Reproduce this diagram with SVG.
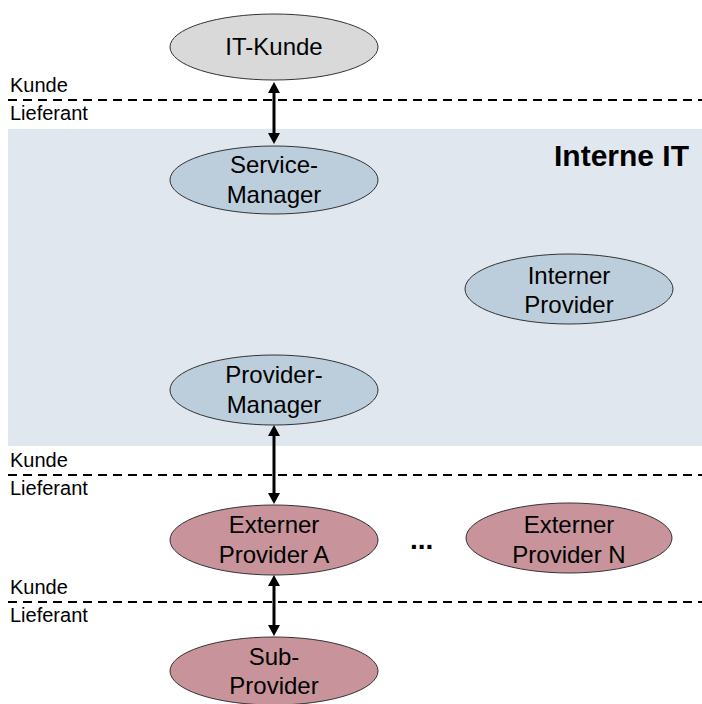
<svg xmlns="http://www.w3.org/2000/svg" width="702" height="704" viewBox="0 0 702 704">
<style>
text{font-family:"Liberation Sans",Arial,sans-serif;fill:#000}
.lbl{font-size:20px}
.nt{font-size:24px;text-anchor:middle}
.node ellipse{stroke:#333;stroke-width:1}
.grey{fill:#d9d9d9}
.blue{fill:#bccedb}
.pink{fill:#c8939b}
.sep{stroke:#000;stroke-width:2.2;stroke-dasharray:9 6;fill:none}
.arr{stroke:#000;stroke-width:3;fill:none;marker-start:url(#ah);marker-end:url(#ah)}
</style>
<defs>
<marker id="ah" markerUnits="userSpaceOnUse" markerWidth="12" markerHeight="12" refX="0" refY="6" orient="auto-start-reverse" viewBox="0 0 12 12">
<path d="M0,0 L11,6 L0,12 z" fill="#000"/>
</marker>
</defs>
<rect id="band" x="8" y="129" width="694" height="317" fill="#e1e7ef"/>
<text x="689" y="166" font-size="30" font-weight="bold" text-anchor="end">Interne IT</text>
<g id="separators">
<line class="sep" x1="8" y1="100" x2="702" y2="100"/>
<line class="sep" x1="8" y1="475" x2="702" y2="475"/>
<line class="sep" x1="8" y1="602" x2="702" y2="602"/>
<text class="lbl" x="10" y="92">Kunde</text>
<text class="lbl" x="10" y="120">Lieferant</text>
<text class="lbl" x="10" y="467">Kunde</text>
<text class="lbl" x="10" y="495">Lieferant</text>
<text class="lbl" x="10" y="594">Kunde</text>
<text class="lbl" x="10" y="622">Lieferant</text>
</g>
<g id="connectors">
<line class="arr" x1="274" y1="93" x2="274" y2="133"/>
<line class="arr" x1="274" y1="436" x2="274" y2="493"/>
<line class="arr" x1="274" y1="586" x2="274" y2="625"/>
</g>
<g id="it-kunde" class="node">
<ellipse class="grey" cx="274" cy="47" rx="104" ry="33"/>
<text class="nt" x="274" y="55">IT-Kunde</text>
</g>
<g id="service-manager" class="node">
<ellipse class="blue" cx="274" cy="180" rx="104" ry="34"/>
<text class="nt" x="274" y="173">Service-</text>
<text class="nt" x="274" y="203">Manager</text>
</g>
<g id="interner-provider" class="node">
<ellipse class="blue" cx="569" cy="289" rx="104" ry="35"/>
<text class="nt" x="569" y="284">Interner</text>
<text class="nt" x="569" y="313">Provider</text>
</g>
<g id="provider-manager" class="node">
<ellipse class="blue" cx="274" cy="390" rx="104" ry="35"/>
<text class="nt" x="274" y="383">Provider-</text>
<text class="nt" x="274" y="413">Manager</text>
</g>
<g id="externer-provider-a" class="node">
<ellipse class="pink" cx="274" cy="540" rx="104" ry="35"/>
<text class="nt" x="274" y="533">Externer</text>
<text class="nt" x="274" y="563">Provider A</text>
</g>
<text id="ellipsis" x="410" y="549" font-size="28" font-weight="bold">...</text>
<g id="externer-provider-n" class="node">
<ellipse class="pink" cx="569" cy="538" rx="103" ry="35"/>
<text class="nt" x="569" y="533">Externer</text>
<text class="nt" x="569" y="563">Provider N</text>
</g>
<g id="sub-provider" class="node">
<ellipse class="pink" cx="274" cy="671" rx="104" ry="34"/>
<text class="nt" x="274" y="665">Sub-</text>
<text class="nt" x="274" y="694">Provider</text>
</g>
</svg>
